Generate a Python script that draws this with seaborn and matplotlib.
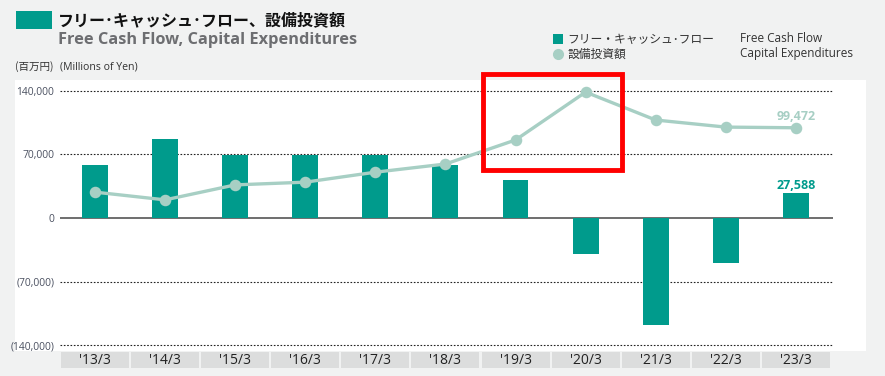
import numpy as np
import matplotlib.pyplot as plt
import seaborn as sns
from matplotlib.patches import Rectangle
from matplotlib.transforms import blended_transform_factory

years = ["'13/3", "'14/3", "'15/3", "'16/3", "'17/3", "'18/3",
         "'19/3", "'20/3", "'21/3", "'22/3", "'23/3"]
free_cash_flow = [58000, 87000, 69500, 69500, 69500, 58000,
                  42000, -39500, -118000, -49500, 27588]
capex = [28500, 20000, 36500, 39500, 50500, 59500,
         86000, 138800, 108000, 100200, 99472]
y_ticks = [-140000, -70000, 0, 70000, 140000]
y_tick_labels = ["(140,000)", "(70,000)", "0", "70,000", "140,000"]

teal = "#009b8c"
mint = "#a7cfc4"
bg = "#f1f2f2"
jp = ["Noto Sans CJK JP", "DejaVu Sans"]
en = ["Open Sans", "DejaVu Sans"]

sns.set_theme(style="white")
plt.rcParams["font.family"] = en

fig = plt.figure(figsize=(8.85, 3.76), dpi=100, facecolor=bg)

# white panel behind the chart
fig.patches.append(Rectangle((15 / 885, 1 - 351 / 376), 851 / 885, 271 / 376,
                             transform=fig.transFigure, facecolor="white",
                             edgecolor="none", zorder=-5))

ax = fig.add_axes([60 / 885, 1 - 346 / 376, 773 / 885, 256 / 376])
ax.set_facecolor("none")

sns.barplot(x=years, y=free_cash_flow, color=teal, saturation=1,
            width=0.37, linewidth=0, ax=ax, zorder=3)
sns.pointplot(x=years, y=capex, color=mint, markers="o", markersize=6.5,
              linewidth=2.4, ax=ax, zorder=4)
for c in ax.collections:
    c.set_clip_on(False)
for l in ax.lines:
    l.set_clip_on(False)

ax.set_xlim(-0.5, 10.53)
ax.set_ylim(-141100, 141100)
ax.set_yticks(y_ticks)
ax.set_yticklabels(y_tick_labels, color="#4a5060", fontsize=7.4)
ax.tick_params(axis="y", length=3, width=0.8, color="#333333", pad=1)
ax.tick_params(axis="x", length=0, labelbottom=False)
for s in ax.spines.values():
    s.set_visible(False)

for v in y_ticks:
    if v == 0:
        ax.axhline(0, color="#555555", lw=1.2, zorder=2)
    else:
        ax.axhline(v, color="#222222", lw=0.8, ls=(0, (1.5, 1.5)), zorder=1,
                   clip_on=False)

# category boxes under the axis
tr = blended_transform_factory(ax.transData, ax.transAxes)
for i, lab in enumerate(years):
    ax.add_patch(Rectangle((i - 0.485, -0.024), 0.97, -0.063, transform=tr,
                           facecolor="#dcdddd", edgecolor="none", clip_on=False))
    ax.text(i, -0.056, lab, transform=tr, ha="center", va="center",
            fontsize=10, color="#222222")

ax.text(10, capex[-1] + 5500, f"{capex[-1]:,}", ha="center", va="bottom",
        color=mint, fontsize=9, fontweight="bold")
ax.text(10, free_cash_flow[-1] + 1500, f"{free_cash_flow[-1]:,}", ha="center",
        va="bottom", color=teal, fontsize=9, fontweight="bold")

# title block
fig.patches.append(Rectangle((16 / 885, 1 - 29 / 376), 36 / 885, 18 / 376,
                             transform=fig.transFigure, facecolor=teal,
                             edgecolor="none"))
fig.text(58 / 885, 1 - 20 / 376, "フリー･キャッシュ･フロー、設備投資額",
         family=jp, fontsize=11.5, fontweight="bold", color="#111111", va="center")
fig.text(58 / 885, 1 - 40 / 376, "Free Cash Flow, Capital Expenditures",
         family=en, fontsize=11.8, fontweight="bold", color="#6d6e71", va="center")
fig.text(15 / 885, 1 - 67 / 376, "(百万円)", family=jp, fontsize=7.6,
         color="#333333", va="center")
fig.text(60 / 885, 1 - 67 / 376, "(Millions of Yen)", family=en, fontsize=7.6,
         color="#333333", va="center")

# legend
fig.patches.append(Rectangle((553 / 885, 1 - 44 / 376), 10 / 885, 10 / 376,
                             transform=fig.transFigure, facecolor=teal,
                             edgecolor="none"))
fig.lines.append(plt.Line2D([558 / 885], [1 - 54 / 376], marker="o",
                            markersize=7, color=mint, ls="none",
                            transform=fig.transFigure))
fig.text(567 / 885, 1 - 39 / 376, "フリー・キャッシュ･フロー", family=jp,
         fontsize=8.5, color="#333333", va="center")
fig.text(567 / 885, 1 - 54 / 376, "設備投資額", family=jp,
         fontsize=8.5, color="#333333", va="center")
fig.text(740 / 885, 1 - 39 / 376, "Free Cash Flow", family=en,
         fontsize=8.5, color="#333333", va="center")
fig.text(740 / 885, 1 - 54 / 376, "Capital Expenditures", family=en,
         fontsize=8.5, color="#333333", va="center")

# red highlight box
fig.patches.append(Rectangle((483 / 885, 1 - 170 / 376), 139 / 885, 96 / 376,
                             transform=fig.transFigure, facecolor="none",
                             edgecolor="#ff0000", linewidth=3.5, zorder=10))

fig.savefig("out.png", dpi=100, facecolor=bg)
